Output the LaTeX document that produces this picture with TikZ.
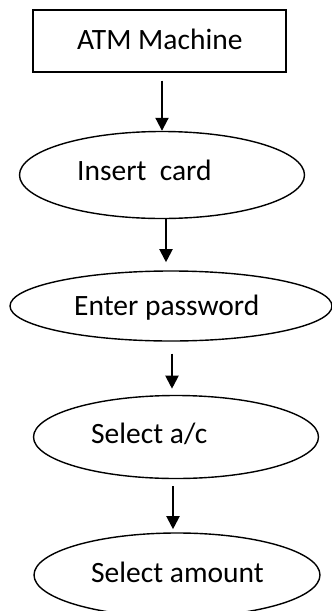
\documentclass[tikz,border=0pt]{standalone}
\usepackage{fontspec}
\setmainfont{Carlito}
\usetikzlibrary{shapes.geometric,arrows.meta}
\begin{document}
\begin{tikzpicture}[x=1pt,y=-1pt,
  box/.style={draw,line width=1.4pt,rectangle,minimum width=253pt,minimum height=62pt,inner sep=0pt},
  oval/.style={draw,line width=1.4pt,ellipse,inner sep=0pt},
  lbl/.style={anchor=base west,inner sep=0pt,font=\fontsize{29.5}{34}\selectfont},
  arr/.style={line width=2pt,-{Triangle[width=13pt,length=13pt]}}]
\useasboundingbox (0,0) rectangle (332,611);
\clip (0,0) rectangle (332,611);
% shapes of the flow
\node[box] (atm) at (159.5,41) {};
\node[oval,minimum width=285pt,minimum height=87pt] (ins) at (162,175) {};
\node[oval,minimum width=322pt,minimum height=70pt] (pwd) at (171,306) {};
\node[oval,minimum width=285pt,minimum height=83pt] (acc) at (176,437) {};
\node[oval,minimum width=286pt,minimum height=84pt] (amt) at (177,575) {};
% labels
\node[lbl] (tatm) at (77,49) {ATM Machine};
\node[lbl] (tins) at (77,180) {Insert\ \ card};
\node[lbl] (tpwd) at (74,315) {Enter password};
\node[lbl] (tacc) at (91,443) {Select a/c};
\node[lbl] (tamt) at (91,582) {Select amount};
% arrows
\draw[arr] ([yshift=-8pt]atm.south -| ins.north) -- (ins.north);
\draw[arr] ([xshift=4pt]ins.south) -- ++(0,43);
\draw[arr] ([xshift=1pt,yshift=-12pt]pwd.south) -- ++(0,35);
\draw[arr] ([xshift=-3pt,yshift=-7pt]acc.south) -- ++(0,43);
\end{tikzpicture}
\end{document}
